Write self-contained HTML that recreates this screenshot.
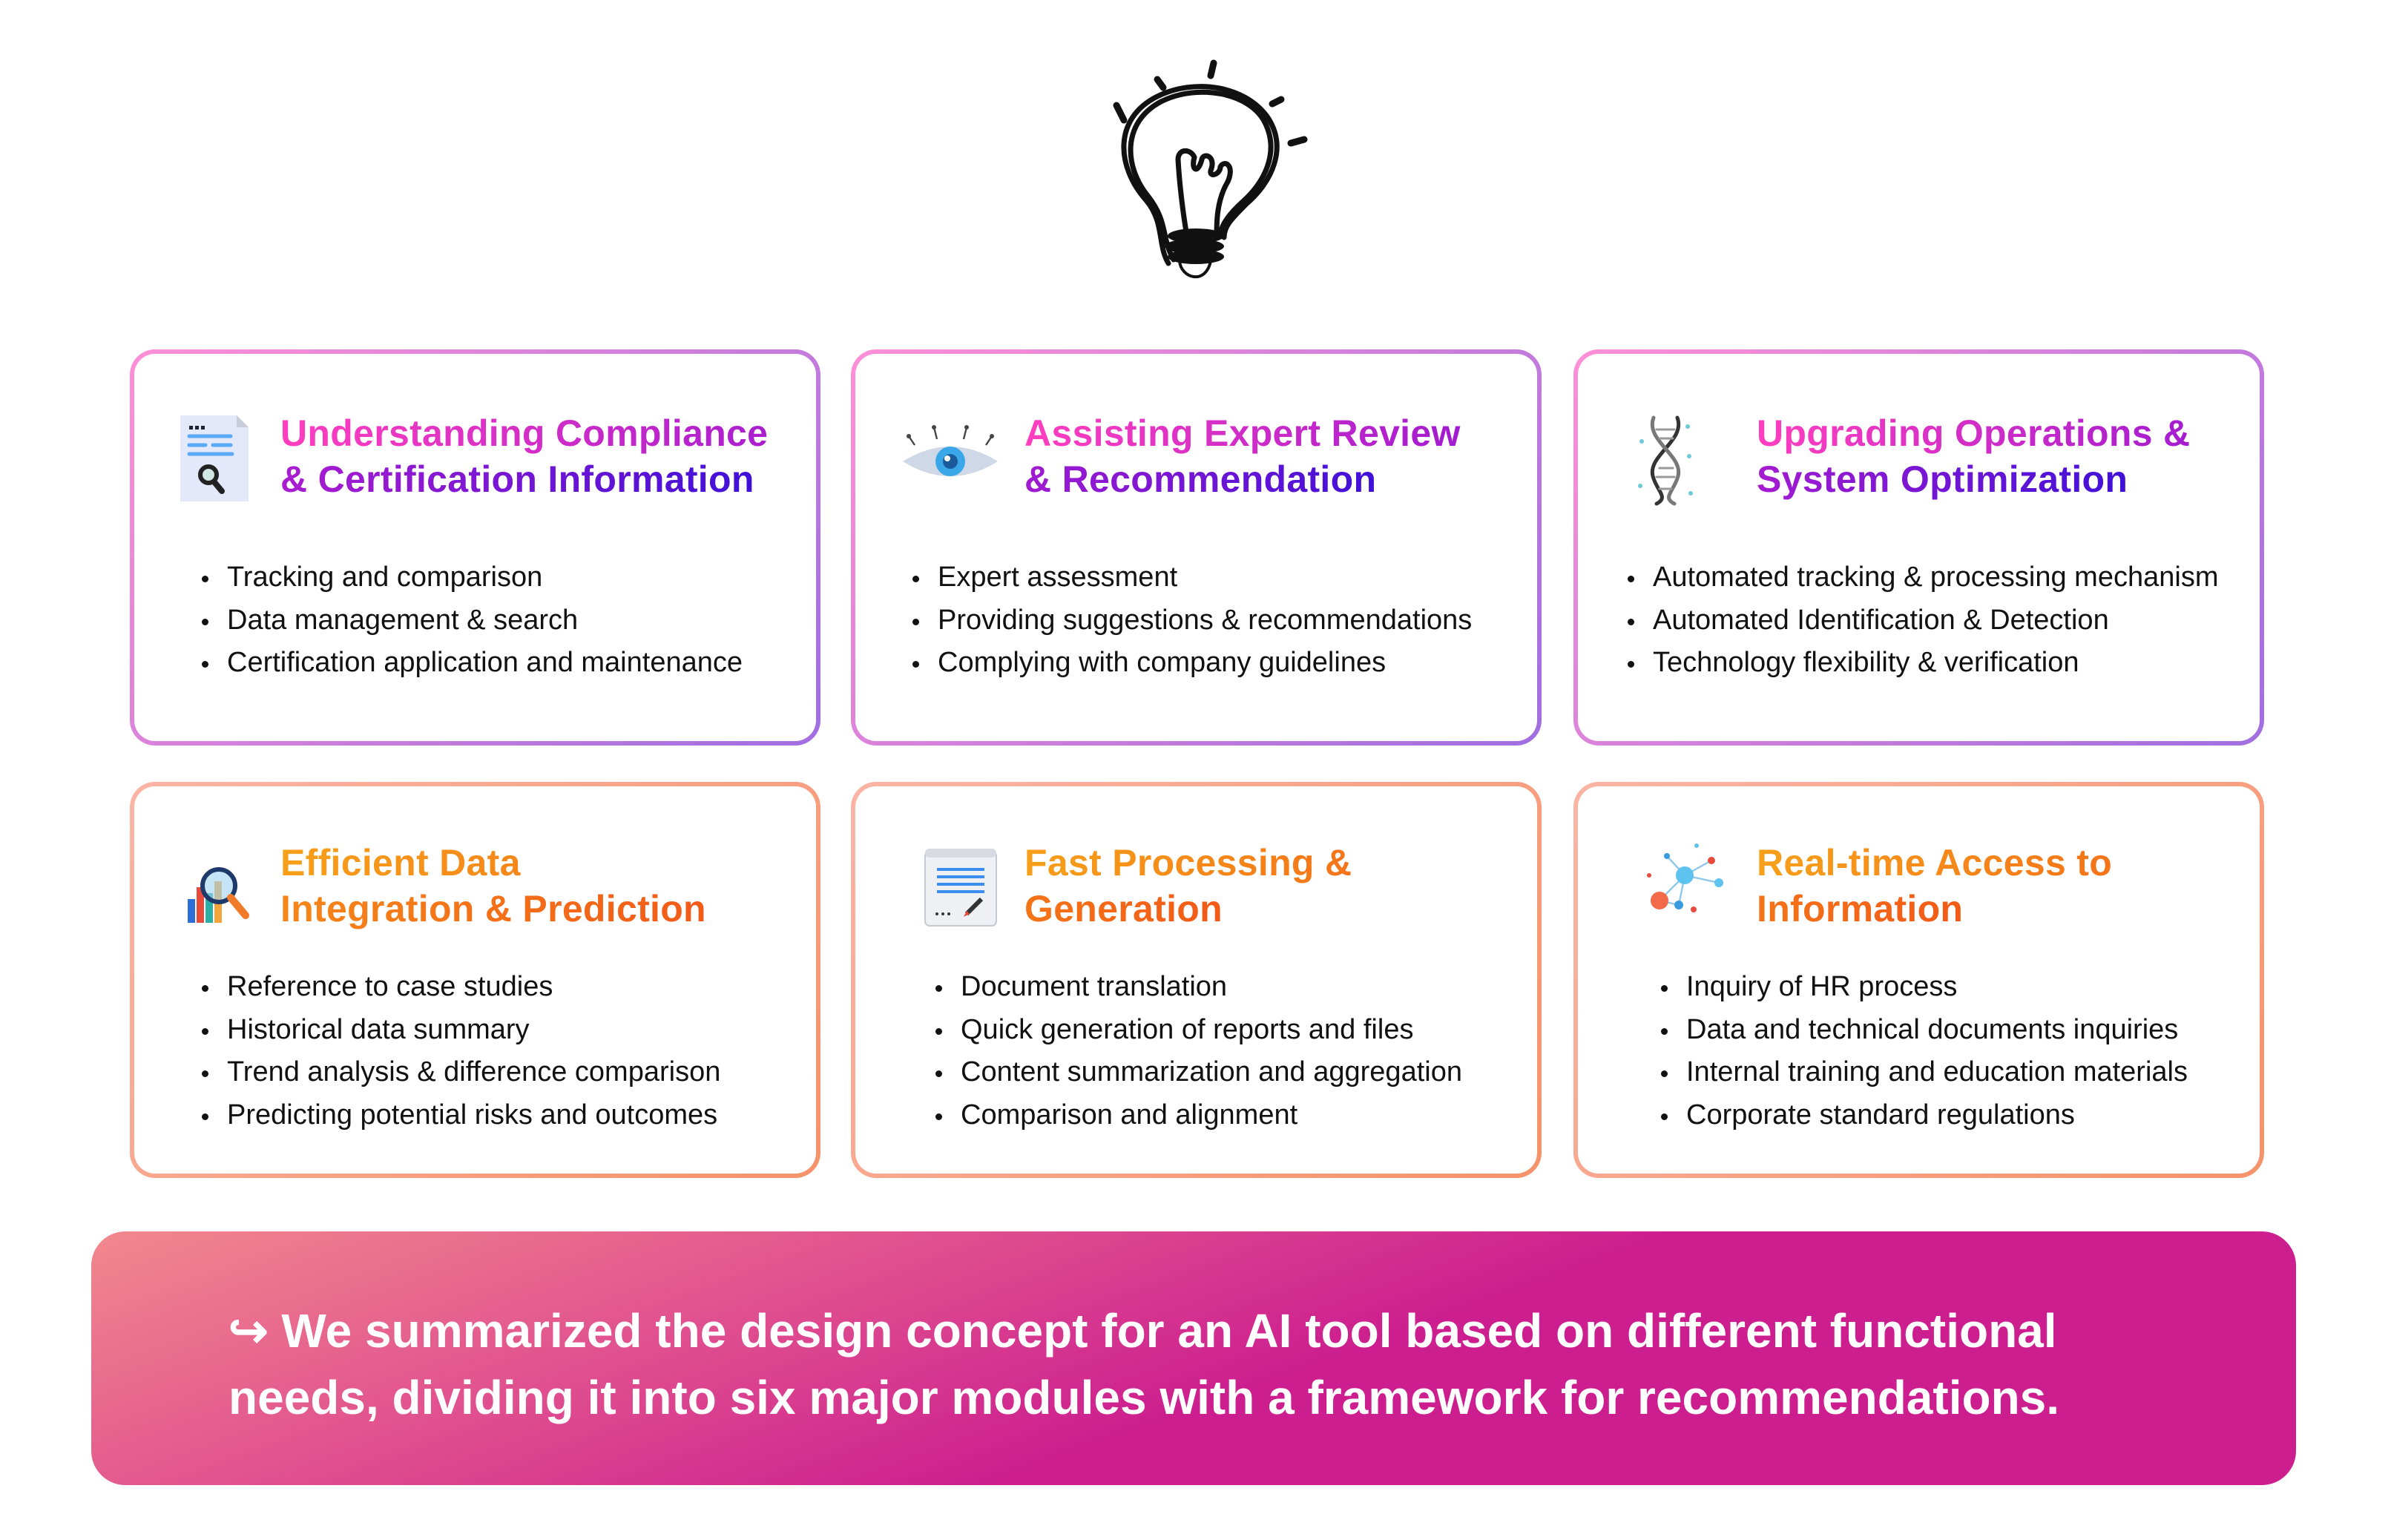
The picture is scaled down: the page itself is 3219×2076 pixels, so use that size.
<!DOCTYPE html>
<html><head><meta charset="utf-8">
<style>
*{margin:0;padding:0;box-sizing:border-box}
body{width:3219px;height:2076px;background:#fff;position:relative;overflow:hidden;font-family:"Liberation Sans",sans-serif;color:#111}
.card{position:absolute;width:931px;height:534px;border-radius:34px;padding:6px}
.r1{background:linear-gradient(135deg,#ff8fd8,#a06ee0)}
.r2{background:linear-gradient(135deg,#fbb5a5,#f5926a)}
.inner{width:100%;height:100%;background:#fff;border-radius:28px;position:relative}
.t{position:absolute;font-weight:bold;font-size:50px;line-height:62px;white-space:nowrap;letter-spacing:0.3px}
.t span{-webkit-background-clip:text;background-clip:text;color:transparent}
.g1{background:linear-gradient(90deg,#ff3fbf,#a21bd0 55%,#3f10d8)}
.g2{background:linear-gradient(90deg,#f7a01a,#f25a18)}
ul{position:absolute;list-style:none;font-size:38px;line-height:57.5px;white-space:nowrap}
li{position:relative;padding-left:36px}
li:before{content:"";position:absolute;left:2px;top:26px;width:9px;height:9px;border-radius:50%;background:#111}
.ic{position:absolute}
.banner{position:absolute;left:123px;top:1660px;width:2972px;height:342px;border-radius:46px;background:linear-gradient(160deg,#f2888c 0%,#e0508f 30%,#cc1e8f 55%,#cc1e8f 100%)}
.banner p{position:absolute;left:185px;top:89px;color:#fff;font-weight:bold;font-size:64px;line-height:90px;white-space:nowrap}
</style></head><body>

<svg style="position:absolute;left:1480px;top:60px" width="300" height="330" viewBox="1480 60 300 330" fill="none" stroke="#111" stroke-linecap="round">
<g stroke-width="7">
<path d="M1575 355 C1560 330 1570 300 1545 270 C1505 225 1500 160 1560 130 C1610 105 1680 115 1710 160 C1735 200 1715 245 1680 275 C1660 295 1650 305 1650 320"/>
<path d="M1582 350 C1565 320 1575 300 1548 265 C1515 225 1512 165 1565 137 C1615 112 1685 125 1705 165 C1725 205 1705 245 1675 272 C1655 290 1645 305 1645 318"/>
<path d="M1600 318 C1595 290 1590 250 1588 215 C1588 200 1605 200 1610 212 C1605 230 1615 235 1620 215 C1622 205 1640 210 1632 230 C1630 240 1645 235 1645 225 C1650 215 1665 222 1655 245 C1640 270 1640 300 1640 318"/>
</g>
<g fill="#111" stroke="none">
<ellipse cx="1612" cy="318" rx="38" ry="10"/><ellipse cx="1610" cy="332" rx="40" ry="10"/><ellipse cx="1612" cy="346" rx="38" ry="10"/>
</g>
<path d="M1590 352 C1592 375 1625 385 1632 352" stroke-width="4"/>
<g stroke-width="9">
<line x1="1505" y1="142" x2="1515" y2="162"/><line x1="1560" y1="107" x2="1568" y2="118"/><line x1="1636" y1="85" x2="1632" y2="102"/><line x1="1715" y1="140" x2="1727" y2="134"/><line x1="1740" y1="193" x2="1758" y2="188"/>
</g>
</svg>

<!-- Row 1 -->
<div class="card r1" style="left:175px;top:471px"><div class="inner">
<svg class="ic" style="left:62px;top:83px" width="92" height="116" viewBox="0 0 46 58"><path d="M0 0H38L46 8V58H0Z" fill="#e3e9fb"/><path d="M38 0L46 8H38Z" fill="#c8ccd8"/><g fill="#1f2230"><rect x="6" y="7" width="2.5" height="2.5"/><rect x="10" y="7" width="2.5" height="2.5"/><rect x="14" y="7" width="2.5" height="2.5"/></g><g stroke="#5aa9f5" stroke-width="2.5" stroke-linecap="round"><line x1="6" y1="14" x2="34" y2="14"/><line x1="6" y1="20" x2="17" y2="20"/><line x1="22" y1="20" x2="34" y2="20"/><line x1="6" y1="26" x2="35" y2="26"/></g><circle cx="19" cy="40" r="5.5" fill="#cfe8e4" stroke="#222" stroke-width="3"/><line x1="23" y1="45" x2="28" y2="51" stroke="#222" stroke-width="4" stroke-linecap="round"/></svg>
<div class="t" style="left:197px;top:76px"><span class="g1">Understanding Compliance<br>&amp; Certification Information</span></div>
<ul style="left:89px;top:273px"><li>Tracking and comparison</li><li>Data management &amp; search</li><li>Certification application and maintenance</li></ul>
</div></div>

<div class="card r1" style="left:1147px;top:471px"><div class="inner">
<svg class="ic" style="left:60px;top:95px" width="136" height="90" viewBox="0 0 68 45"><path d="M2 25 Q34 5 66 25 Q34 45 2 25Z" fill="#cfd8e6"/><circle cx="34" cy="25" r="10" fill="#3aa8e8"/><circle cx="34" cy="25" r="5" fill="#1a5a9a"/><circle cx="32" cy="23" r="2" fill="#fff"/><g stroke="#444" stroke-width="1.2" fill="none"><path d="M10 14 L6 8"/><path d="M25 10 L23 2"/><path d="M43 10 L45 2"/><path d="M58 14 L62 8"/></g><g fill="#444"><circle cx="6" cy="8" r="1.5"/><circle cx="23" cy="2" r="1.5"/><circle cx="45" cy="2" r="1.5"/><circle cx="62" cy="8" r="1.5"/></g></svg>
<div class="t" style="left:228px;top:76px"><span class="g1">Assisting Expert Review<br>&amp; Recommendation</span></div>
<ul style="left:75px;top:273px"><li>Expert assessment</li><li>Providing suggestions &amp; recommendations</li><li>Complying with company guidelines</li></ul>
</div></div>

<div class="card r1" style="left:2121px;top:471px"><div class="inner">
<svg class="ic" style="left:78px;top:78px" width="80" height="130" viewBox="0 0 40 65" fill="none" stroke-linecap="round"><path d="M28 4 C34 20 6 30 12 45 C15 54 22 58 14 62" stroke="#333" stroke-width="2.5"/><path d="M12 4 C6 20 34 30 28 45 C25 54 18 58 26 62" stroke="#777" stroke-width="2.5"/><g stroke="#999" stroke-width="1.5"><line x1="14" y1="12" x2="26" y2="12"/><line x1="16" y1="18" x2="25" y2="18"/><line x1="16" y1="38" x2="25" y2="38"/><line x1="14" y1="44" x2="26" y2="44"/><line x1="16" y1="52" x2="24" y2="52"/></g><g fill="#6cc9d8" stroke="none"><circle cx="4" cy="20" r="1.5"/><circle cx="36" cy="30" r="1.5"/><circle cx="3" cy="50" r="1.5"/><circle cx="37" cy="55" r="1.5"/><circle cx="35" cy="10" r="1.5"/></g></svg>
<div class="t" style="left:241px;top:76px"><span class="g1">Upgrading Operations &amp;<br>System Optimization</span></div>
<ul style="left:65px;top:273px"><li>Automated tracking &amp; processing mechanism</li><li>Automated Identification &amp; Detection</li><li>Technology flexibility &amp; verification</li></ul>
</div></div>

<!-- Row 2 -->
<div class="card r2" style="left:175px;top:1054px"><div class="inner">
<svg class="ic" style="left:68px;top:100px" width="92" height="96" viewBox="0 0 46 48"><rect x="2" y="26" width="5" height="16" fill="#2d6fd6"/><rect x="8" y="18" width="5" height="24" fill="#e84a3c"/><rect x="14" y="22" width="5" height="20" fill="#2bb0a8"/><rect x="20" y="14" width="5" height="28" fill="#f3a43a"/><circle cx="23" cy="17" r="11" fill="rgba(160,210,240,.6)" stroke="#1e3a6a" stroke-width="3"/><line x1="31" y1="25" x2="41" y2="37" stroke="#f07b2a" stroke-width="5" stroke-linecap="round"/></svg>
<div class="t" style="left:197px;top:72px"><span class="g2">Efficient Data<br>Integration &amp; Prediction</span></div>
<ul style="left:89px;top:242px"><li>Reference to case studies</li><li>Historical data summary</li><li>Trend analysis &amp; difference comparison</li><li>Predicting potential risks and outcomes</li></ul>
</div></div>

<div class="card r2" style="left:1147px;top:1054px"><div class="inner">
<svg class="ic" style="left:90px;top:80px" width="104" height="110" viewBox="0 0 52 55"><rect x="2" y="4" width="48" height="50" rx="3" fill="#eef0f4" stroke="#c5c9d0"/><rect x="2" y="2" width="48" height="6" rx="3" fill="#d7dae0"/><g stroke="#3a8ef0" stroke-width="2"><line x1="10" y1="16" x2="42" y2="16"/><line x1="10" y1="21" x2="42" y2="21"/><line x1="10" y1="26" x2="42" y2="26"/><line x1="10" y1="31" x2="42" y2="31"/></g><line x1="30" y1="46" x2="40" y2="36" stroke="#333" stroke-width="3"/><path d="M28 48 L30 44 L32 46Z" fill="#e84a3c"/><g fill="#333"><circle cx="10" cy="46" r="1"/><circle cx="14" cy="46" r="1"/><circle cx="18" cy="46" r="1"/></g></svg>
<div class="t" style="left:228px;top:72px"><span class="g2">Fast Processing &amp;<br>Generation</span></div>
<ul style="left:106px;top:242px"><li>Document translation</li><li>Quick generation of reports and files</li><li>Content summarization and aggregation</li><li>Comparison and alignment</li></ul>
</div></div>

<div class="card r2" style="left:2121px;top:1054px"><div class="inner">
<svg class="ic" style="left:80px;top:70px" width="130" height="130" viewBox="0 0 65 65"><g stroke="#8fc8e8" stroke-width="1.2"><line x1="32" y1="25" x2="15" y2="42"/><line x1="32" y1="25" x2="50" y2="15"/><line x1="32" y1="25" x2="55" y2="30"/><line x1="32" y1="25" x2="28" y2="45"/><line x1="15" y1="42" x2="28" y2="45"/><line x1="32" y1="25" x2="20" y2="12"/></g><circle cx="32" cy="25" r="6" fill="#5ec3ee"/><circle cx="15" cy="42" r="6" fill="#f26a4a"/><circle cx="50" cy="15" r="2.5" fill="#e84a3c"/><circle cx="55" cy="30" r="3" fill="#5ec3ee"/><circle cx="28" cy="45" r="3" fill="#3a9ae0"/><circle cx="20" cy="12" r="2" fill="#3a9ae0"/><circle cx="40" cy="5" r="1.5" fill="#5ec3ee"/><circle cx="8" cy="25" r="1.5" fill="#e84a3c"/><circle cx="38" cy="48" r="2" fill="#e84a3c"/></svg>
<div class="t" style="left:241px;top:72px"><span class="g2">Real-time Access to<br>Information</span></div>
<ul style="left:110px;top:242px"><li>Inquiry of HR process</li><li>Data and technical documents inquiries</li><li>Internal training and education materials</li><li>Corporate standard regulations</li></ul>
</div></div>

<div class="banner"><p>↪ We summarized the design concept for an AI tool based on different functional<br>needs, dividing it into six major modules with a framework for recommendations.</p></div>
</body></html>
